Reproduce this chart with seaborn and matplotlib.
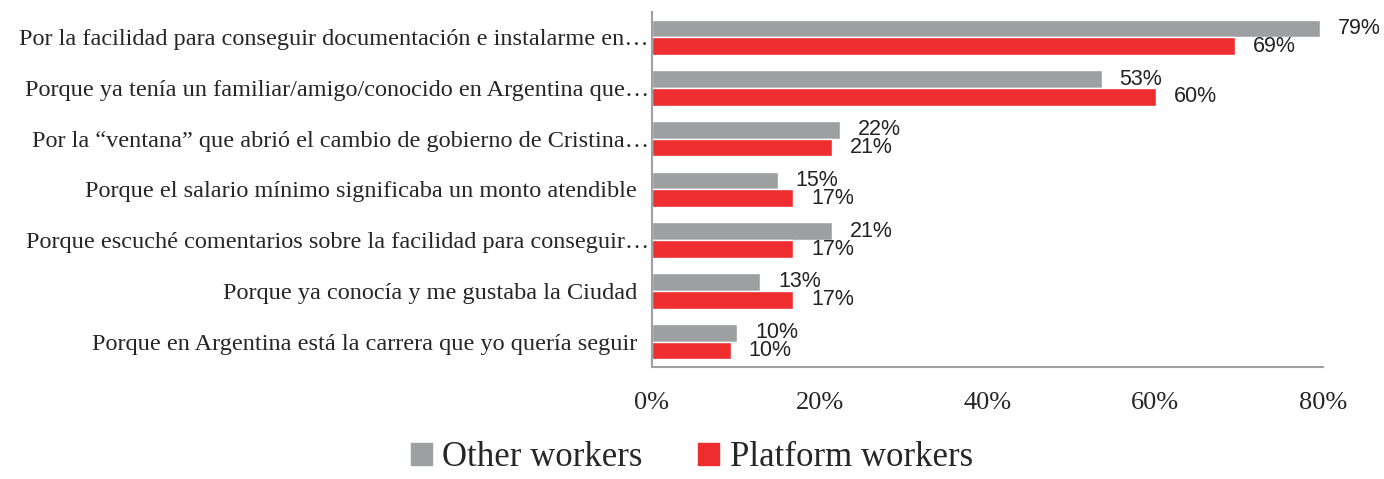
import pandas as pd
import matplotlib.pyplot as plt
import seaborn as sns

# Reasons, as shown on the y axis (long ones truncated in the original)
reasons = [
    "Por la facilidad para conseguir documentación e instalarme en…",
    "Porque ya tenía un familiar/amigo/conocido en Argentina que…",
    "Por la “ventana” que abrió el cambio de gobierno de Cristina…",
    "Porque el salario mínimo significaba un monto atendible  ",
    "Porque escuché comentarios sobre la facilidad para conseguir…",
    "Porque ya conocía y me gustaba la Ciudad  ",
    "Porque en Argentina está la carrera que yo quería seguir  ",
]
groups = ["Other workers", "Platform workers"]

other_vals = [79.6, 53.6, 22.4, 15.0, 21.5, 12.9, 10.2]
platform_vals = [69.5, 60.1, 21.5, 16.8, 16.8, 16.8, 9.4]
other_labels = ["79%", "53%", "22%", "15%", "21%", "13%", "10%"]
platform_labels = ["69%", "60%", "21%", "17%", "17%", "17%", "10%"]

colors = {"Other workers": "#9d9fa0", "Platform workers": "#ee2e2e"}

df = pd.DataFrame({
    "reason": reasons * 2,
    "group": [groups[0]] * len(reasons) + [groups[1]] * len(reasons),
    "value": other_vals + platform_vals,
})

sns.set_style("white")
plt.rcParams["font.family"] = ["Liberation Serif", "DejaVu Serif"]

fig, ax = plt.subplots(figsize=(13.84, 4.79), dpi=100)
fig.subplots_adjust(left=0.471, right=0.956, top=0.975, bottom=0.234)

sns.barplot(data=df, y="reason", x="value", hue="group", orient="h",
            palette=colors, width=0.7, gap=0, saturation=1, ax=ax)

# data labels
for cont, labels in zip(ax.containers, [other_labels, platform_labels]):
    ax.bar_label(cont, labels=labels, padding=13, fontsize=15.5, color="#222222",
                 family=["Liberation Sans Narrow", "Liberation Sans", "DejaVu Sans"])

ax.set_xlim(0, 80)
ax.set_xticks([0, 20, 40, 60, 80])
ax.set_xticklabels(["0%", "20%", "40%", "60%", "80%"])
ax.tick_params(axis="x", length=0, pad=18, labelsize=19)
ax.tick_params(axis="y", length=0, pad=2, labelsize=17.5)
ax.set_xlabel("")
ax.set_ylabel("")

for side in ["top", "right"]:
    ax.spines[side].set_visible(False)
for side in ["left", "bottom"]:
    ax.spines[side].set_color("#a0a0a0")
    ax.spines[side].set_linewidth(1.5)

ax.legend_.remove()
handles = [plt.Rectangle((0, 0), 1, 1, color=colors[g]) for g in groups]
fig.legend(handles, groups, loc="lower center", bbox_to_anchor=(0.5, -0.055),
           ncol=2, frameon=False, fontsize=25, handlelength=0.6,
           handleheight=0.6, handletextpad=0.3, columnspacing=1.6)

fig.savefig("out.png", dpi=100)
